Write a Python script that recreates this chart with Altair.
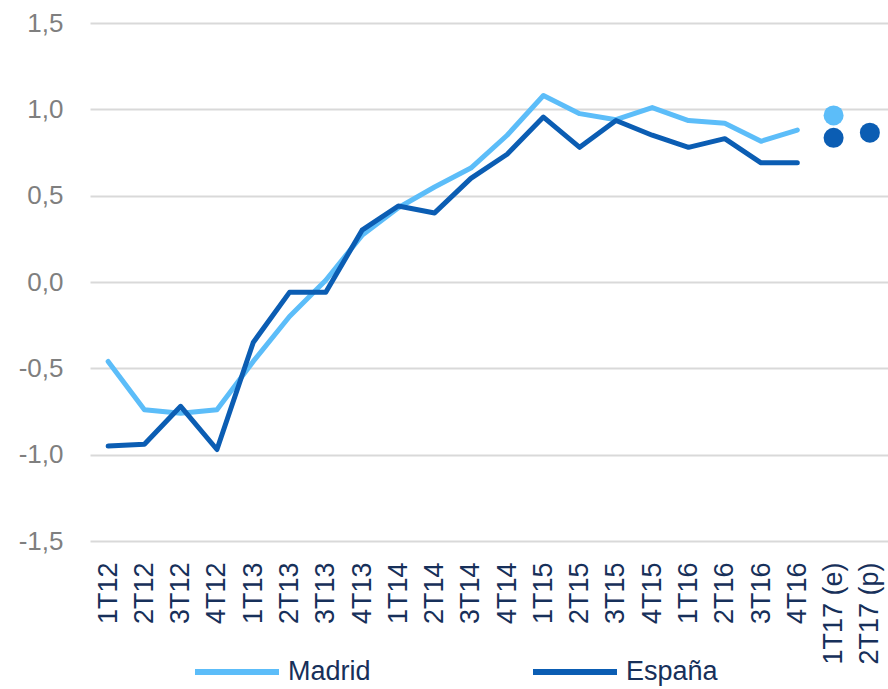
import altair as alt
import pandas as pd

categories = ["1T12", "2T12", "3T12", "4T12", "1T13", "2T13", "3T13", "4T13",
              "1T14", "2T14", "3T14", "4T14", "1T15", "2T15", "3T15", "4T15",
              "1T16", "2T16", "3T16", "4T16", "1T17 (e)", "2T17 (p)"]
line_categories = categories[:20]
forecast_categories = categories[20:]

madrid_line = [-0.46, -0.74, -0.76, -0.74, -0.46, -0.20, 0.01, 0.27, 0.43, 0.55,
               0.66, 0.85, 1.08, 0.975, 0.94, 1.01, 0.935, 0.92, 0.815, 0.88]
espana_line = [-0.95, -0.94, -0.72, -0.97, -0.35, -0.06, -0.06, 0.30, 0.44, 0.40,
               0.60, 0.74, 0.955, 0.78, 0.935, 0.85, 0.78, 0.83, 0.69, 0.69]
madrid_forecast = [0.965]
espana_forecast = [0.835, 0.865]

series = ["Madrid", "España"]
colors = ["#5cbdf9", "#0b5db3"]

madrid_df = pd.DataFrame({"cat": line_categories, "value": madrid_line, "serie": "Madrid"})
espana_df = pd.DataFrame({"cat": line_categories, "value": espana_line, "serie": "España"})
madrid_pts = pd.DataFrame({"cat": forecast_categories[:1], "value": madrid_forecast, "serie": "Madrid"})
espana_pts = pd.DataFrame({"cat": forecast_categories, "value": espana_forecast, "serie": "España"})

FONT = "Liberation Sans"

x_enc = alt.X("cat:N", sort=categories,
              scale=alt.Scale(type="point", domain=categories, padding=0.5),
              axis=alt.Axis(title=None, labelAngle=270, labelFontSize=27, labelFont=FONT,
                            labelColor="#17305a", labelPadding=21, ticks=False,
                            domain=False, grid=False, labelOverlap=False))
y_enc = alt.Y("value:Q", scale=alt.Scale(domain=[-1.5, 1.5], nice=False, zero=False),
              axis=alt.Axis(title=None, values=[-1.5, -1.0, -0.5, 0, 0.5, 1.0, 1.5],
                            labelExpr="replace(replace(format(datum.value, '.1f'), '.', ','), '\u2212', '-')",
                            labelFontSize=26, labelFont=FONT, labelColor="#7f7f7f",
                            labelPadding=27, ticks=False, domain=False,
                            grid=True, gridColor="#d9d9d9", gridWidth=2))
color_enc = alt.Color("serie:N",
                      scale=alt.Scale(domain=series, range=colors),
                      legend=alt.Legend(title=None, orient="none", direction="horizontal",
                                        legendX=102, legendY=604,
                                        symbolType="stroke", symbolSize=7056,
                                        symbolStrokeWidth=6, labelFontSize=27,
                                        labelFont=FONT, labelColor="#17305a",
                                        labelOffset=6, columnPadding=150,
                                        labelLimit=300))

madrid_line_layer = alt.Chart(madrid_df).mark_line(strokeWidth=5, strokeCap="round", strokeJoin="round").encode(
    x=x_enc, y=y_enc, color=color_enc)
espana_line_layer = alt.Chart(espana_df).mark_line(strokeWidth=5, strokeCap="round", strokeJoin="round").encode(
    x=x_enc, y=y_enc, color=color_enc)
madrid_pt_layer = alt.Chart(madrid_pts).mark_circle(size=400, opacity=1).encode(
    x=x_enc, y=y_enc, color=color_enc)
espana_pt_layer = alt.Chart(espana_pts).mark_circle(size=400, opacity=1).encode(
    x=x_enc, y=y_enc, color=color_enc)

chart = alt.layer(madrid_line_layer, espana_line_layer, madrid_pt_layer, espana_pt_layer).properties(
    width=798, height=518,
    autosize=alt.AutoSizeParams(type="none"),
    padding={"left": 90, "top": 23, "right": 0, "bottom": 148},
    background="white",
).configure_view(stroke=None)

chart.save("out.html", embed_options={"renderer": "svg", "actions": False})
